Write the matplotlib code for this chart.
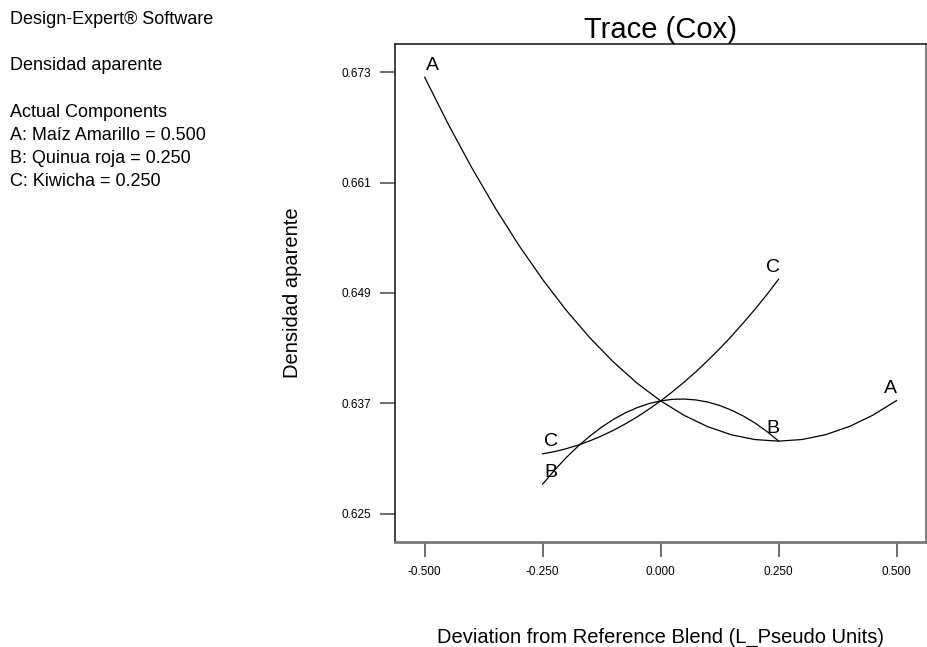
import matplotlib
matplotlib.use('Agg')
import matplotlib.pyplot as plt

plt.rcParams['font.family'] = ['Liberation Sans', 'DejaVu Sans']

# deviation from reference blend (L_Pseudo units)
dev_A = [-0.50, -0.45, -0.40, -0.35, -0.30, -0.25, -0.20, -0.15, -0.10, -0.05, 0.00,
         0.05, 0.10, 0.15, 0.20, 0.25, 0.30, 0.35, 0.40, 0.45, 0.50]
dens_A = [0.67246, 0.66735, 0.66260, 0.65820, 0.65415, 0.65046, 0.64711, 0.64412, 0.64148,
          0.63919, 0.63726, 0.63568, 0.63445, 0.63357, 0.63305, 0.63288, 0.63306, 0.63359,
          0.63447, 0.63571, 0.63730]

dev_BC = [-0.250, -0.225, -0.200, -0.175, -0.150, -0.125, -0.100, -0.075, -0.050, -0.025, 0.000,
          0.025, 0.050, 0.075, 0.100, 0.125, 0.150, 0.175, 0.200, 0.225, 0.250]
dens_B = [0.62820, 0.62971, 0.63109, 0.63233, 0.63343, 0.63441, 0.63525, 0.63595, 0.63652,
          0.63696, 0.63726, 0.63743, 0.63746, 0.63736, 0.63713, 0.63676, 0.63625, 0.63562,
          0.63485, 0.63394, 0.63290]
dens_C = [0.63150, 0.63174, 0.63206, 0.63245, 0.63291, 0.63345, 0.63406, 0.63475, 0.63551,
          0.63635, 0.63726, 0.63825, 0.63931, 0.64044, 0.64165, 0.64293, 0.64429, 0.64573,
          0.64723, 0.64881, 0.65050]

xticks = [-0.5, -0.25, 0.0, 0.25, 0.5]
yticks = [0.625, 0.637, 0.649, 0.661, 0.673]

info_lines = ['Design-Expert\u00ae Software', '', 'Densidad aparente', '',
              'Actual Components', 'A: Ma\u00edz Amarillo = 0.500',
              'B: Quinua roja = 0.250', 'C: Kiwicha = 0.250']

fig = plt.figure(figsize=(9.28, 6.47), dpi=100)
ax = fig.add_axes([0.4253, 0.1623, 0.5725, 0.7697])

ax.plot(dev_A, dens_A, color='black', lw=0.9)
ax.plot(dev_BC, dens_B, color='black', lw=0.9)
ax.plot(dev_BC, dens_C, color='black', lw=0.9)

# component letters at both ends of each trace
for xs, ys, name in [(dev_A, dens_A, 'A'), (dev_BC, dens_B, 'B'), (dev_BC, dens_C, 'C')]:
    ax.annotate(name, (xs[0], ys[0]), xytext=(8, 12), textcoords='offset pixels',
                ha='center', va='center', fontsize=14)
    ax.annotate(name, (xs[-1], ys[-1]), xytext=(-6, 12), textcoords='offset pixels',
                ha='center', va='center', fontsize=14)

ax.set_xlim(-0.5636, 0.5623)
ax.set_ylim(0.62191, 0.67608)
ax.set_xticks(xticks)
ax.set_xticklabels(['%.3f' % v for v in xticks])
ax.set_yticks(yticks)
ax.set_yticklabels(['%.3f' % v for v in yticks])
ax.tick_params(direction='out', length=10.5, width=1.2, color='#555555',
               labelsize=8.5, pad=6.5)

for side in ['left', 'top']:
    ax.spines[side].set_color('#222222')
    ax.spines[side].set_linewidth(1.2)
for side in ['right', 'bottom']:
    ax.spines[side].set_color('#7a7a7a')
    ax.spines[side].set_linewidth(2)

ax.set_title('Trace (Cox)', fontsize=21, pad=1)
ax.set_xlabel('Deviation from Reference Blend (L_Pseudo Units)', fontsize=14.5, labelpad=36)
fig.text(293 / 928, 1 - 293 / 647, 'Densidad aparente', rotation=90,
         ha='center', va='center', fontsize=14.5)

y = 1 - 20 / 647
for line in info_lines:
    fig.text(10 / 928, y, line, ha='left', va='center', fontsize=13)
    y -= 23 / 647

fig.savefig('out.png', dpi=100)
